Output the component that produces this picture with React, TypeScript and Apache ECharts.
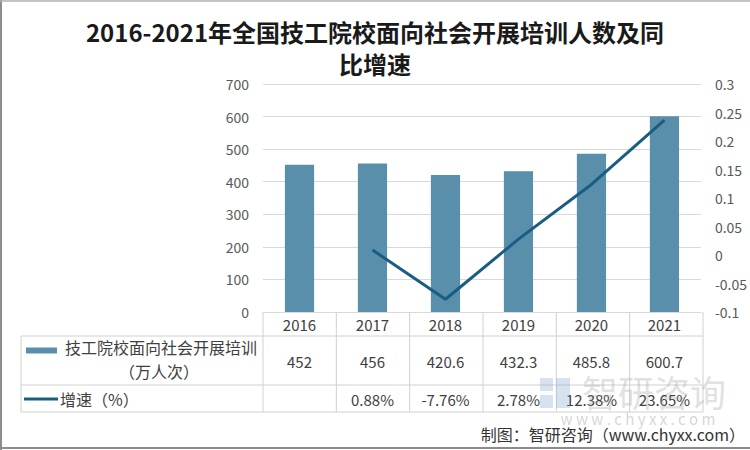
import React, { useEffect, useRef } from "react";
import * as echarts from "echarts";

const years = ["2016", "2017", "2018", "2019", "2020", "2021"];
const trainees = [452, 456, 420.6, 432.3, 485.8, 600.7];
const growth = [null, 0.0088, -0.0776, 0.0278, 0.1238, 0.2365];
const growthLabels = ["", "0.88%", "-7.76%", "2.78%", "12.38%", "23.65%"];
const barName = "技工院校面向社会开展培训";
const barUnit = "（万人次）";
const lineName = "增速（%）";
const titleLine1 = "2016-2021年全国技工院校面向社会开展培训人数及同";
const titleLine2 = "比增速";
const sourceText = "制图：智研咨询（www.chyxx.com）";

const FONT = "'Noto Sans CJK SC', 'Noto Sans', sans-serif";
const BAR_COLOR = "#5a8fab";
const LINE_COLOR = "#1a5d82";
const GRID_COLOR = "#d9d9d9";
const TEXT_COLOR = "#404040";

const G_LEFT = 263;
const G_RIGHT = 703;
const G_TOP = 84;
const G_BOTTOM = 312;

export default function App() {
  const ref = useRef<HTMLDivElement>(null);
  useEffect(() => {
    if (!ref.current) return;
    const chart = echarts.init(ref.current, null, { renderer: "svg" });
    const fmt = (v: number) => String(parseFloat(Number(v).toFixed(2)));
    chart.setOption({
      animation: false,
      backgroundColor: "#ffffff",
      grid: {
        left: G_LEFT,
        right: 750 - G_RIGHT,
        top: G_TOP,
        bottom: 450 - G_BOTTOM,
        containLabel: false,
      },
      xAxis: {
        type: "category",
        data: years,
        axisLine: { show: true, lineStyle: { color: GRID_COLOR, width: 1 } },
        axisTick: { show: false },
        axisLabel: { margin: 5, fontSize: 15, color: TEXT_COLOR, fontFamily: FONT },
      },
      yAxis: [
        {
          type: "value",
          min: 0,
          max: 700,
          interval: 100,
          axisLine: { show: false },
          axisTick: { show: false },
          axisLabel: { margin: 14, fontSize: 14, color: "#595959", fontFamily: FONT },
          splitLine: { show: true, lineStyle: { color: GRID_COLOR, width: 1 } },
        },
        {
          type: "value",
          min: -0.1,
          max: 0.3,
          interval: 0.05,
          axisLine: { show: false },
          axisTick: { show: false },
          axisLabel: {
            margin: 14,
            fontSize: 14,
            color: "#595959",
            fontFamily: FONT,
            formatter: fmt,
          },
          splitLine: { show: false },
        },
      ],
      series: [
        {
          name: barName,
          type: "bar",
          data: trainees,
          barWidth: "40%",
          itemStyle: { color: BAR_COLOR },
        },
        {
          name: lineName,
          type: "line",
          yAxisIndex: 1,
          data: growth,
          showSymbol: false,
          symbol: "none",
          connectNulls: false,
          lineStyle: { color: LINE_COLOR, width: 3 },
          itemStyle: { color: LINE_COLOR },
        },
      ],
    });

    const xs = years.map((y) => chart.convertToPixel({ xAxisIndex: 0 }, y) as number);
    const colW = (G_RIGHT - G_LEFT) / years.length;
    const rowTop = G_BOTTOM;
    const row1 = 336;
    const row2 = 385;
    const row3 = 412;
    const tableLeft = 21;
    const lineStyle = { stroke: "#d0d0d0", lineWidth: 1 };
    const els: any[] = [];
    const titleStyle = {
      fontFamily: FONT,
      fontSize: 24,
      fontWeight: "bold",
      fill: "#1a1a1a",
      align: "center",
      verticalAlign: "middle",
    };
    els.push({ type: "text", x: 375, y: 31, style: { text: titleLine1, ...titleStyle } });
    els.push({ type: "text", x: 375, y: 63, style: { text: titleLine2, ...titleStyle } });

    [row1, row2, row3].forEach((y) =>
      els.push({ type: "line", shape: { x1: tableLeft, y1: y, x2: G_RIGHT, y2: y }, style: lineStyle })
    );
    els.push({ type: "line", shape: { x1: tableLeft, y1: row1, x2: tableLeft, y2: row3 }, style: lineStyle });
    for (let i = 0; i <= years.length; i++) {
      const x = G_LEFT + i * colW;
      els.push({ type: "line", shape: { x1: x, y1: rowTop, x2: x, y2: row3 }, style: lineStyle });
    }
    const cellText = (x: number, y: number, t: string, extra: any = {}) => ({
      type: "text",
      x,
      y,
      style: {
        text: t,
        fontFamily: FONT,
        fontSize: 15,
        fill: TEXT_COLOR,
        align: "center",
        verticalAlign: "middle",
        ...extra,
      },
    });
    trainees.forEach((v, i) => els.push(cellText(xs[i], 361, String(v))));
    growthLabels.forEach((t, i) => {
      if (t) els.push(cellText(xs[i], 399, t));
    });
    els.push({ type: "rect", shape: { x: 26, y: 347.5, width: 31, height: 6 }, style: { fill: BAR_COLOR } });
    els.push(cellText(161, 347, barName, { fontSize: 16 }));
    els.push(cellText(159, 371, barUnit, { fontSize: 16 }));
    els.push({ type: "line", shape: { x1: 24, y1: 399, x2: 58, y2: 399 }, style: { stroke: LINE_COLOR, lineWidth: 3 } });
    els.push(cellText(60, 399, lineName, { fontSize: 16, align: "left" }));

    // watermark
    const wm = "rgba(120,160,205,0.3)";
    els.push({ type: "rect", shape: { x: 540, y: 378, width: 13, height: 13 }, style: { fill: wm } });
    els.push({ type: "rect", shape: { x: 556, y: 378, width: 14, height: 30 }, style: { fill: wm } });
    els.push({ type: "rect", shape: { x: 540, y: 395, width: 13, height: 13 }, style: { fill: wm } });
    els.push({
      type: "text",
      x: 582,
      y: 391,
      style: {
        text: "智研咨询",
        fontFamily: FONT,
        fontSize: 36,
        fill: "rgba(150,150,150,0.3)",
        align: "left",
        verticalAlign: "middle",
      },
    });
    els.push({
      type: "text",
      x: 638,
      y: 418,
      style: {
        text: "w w w . c h y x x . c o m",
        fontFamily: FONT,
        fontSize: 15,
        fill: "rgba(150,150,150,0.4)",
        align: "center",
        verticalAlign: "middle",
      },
    });
    els.push({
      type: "text",
      x: 745,
      y: 434,
      style: {
        text: sourceText,
        fontFamily: FONT,
        fontSize: 16,
        fill: "#333333",
        align: "right",
        verticalAlign: "middle",
      },
    });
    const frame = { stroke: "#8c8c8c", lineWidth: 2 };
    els.push({ type: "line", shape: { x1: 1, y1: 0, x2: 1, y2: 450 }, style: frame });
    els.push({ type: "line", shape: { x1: 0, y1: 1, x2: 750, y2: 1 }, style: { stroke: "#b0b0b0", lineWidth: 1.5 } });
    els.push({ type: "line", shape: { x1: 0, y1: 448, x2: 750, y2: 448 }, style: frame });

    chart.setOption({ graphic: { elements: els } });
    return () => chart.dispose();
  }, []);
  return (
    <div
      ref={ref}
      style={{ position: "fixed", left: 0, top: 0, width: 750, height: 450 }}
    />
  );
}
